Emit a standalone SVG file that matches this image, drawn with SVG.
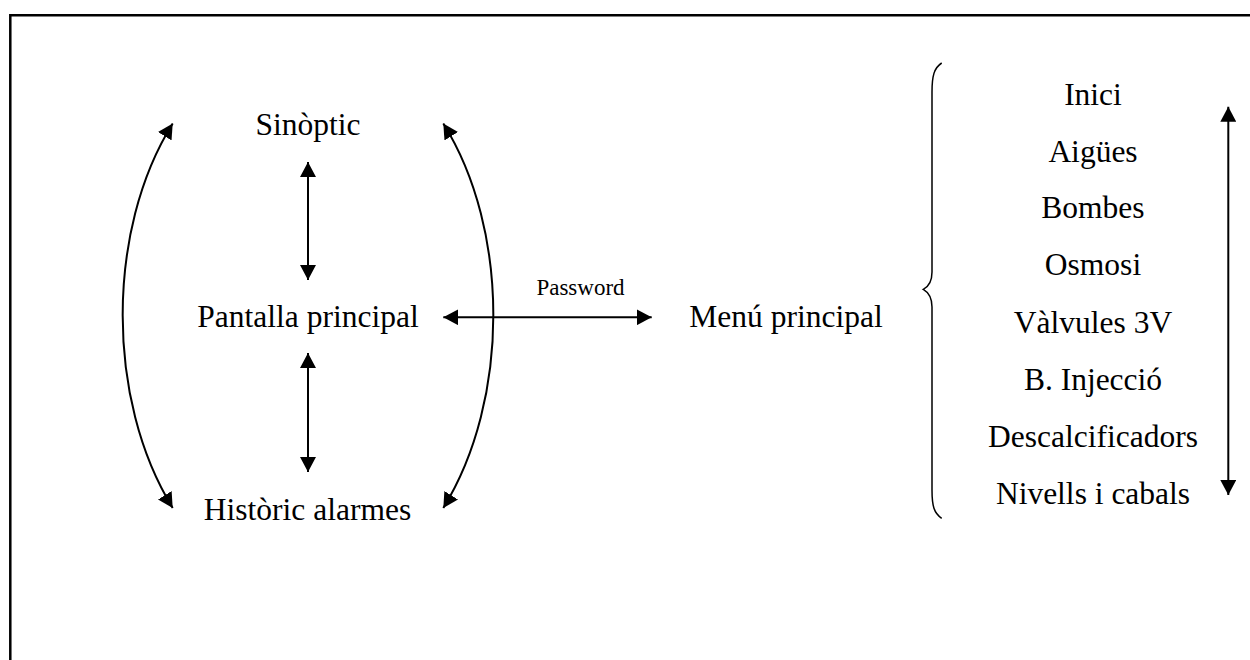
<svg xmlns="http://www.w3.org/2000/svg" width="1250" height="660" viewBox="0 0 1250 660">
  <style>
    .t { font-family: "Liberation Serif", "Times New Roman", serif; font-size: 31.5px; fill: #000; text-anchor: middle; }
    .s { font-family: "Liberation Serif", "Times New Roman", serif; font-size: 23px; fill: #000; text-anchor: middle; }
    .c { fill: none; stroke: #000; stroke-width: 2; }
    .b { fill: none; stroke: #000; stroke-width: 1.5; }
  </style>
  <defs>
    <marker id="ah" viewBox="0 0 15 16" refX="15" refY="8" markerWidth="15" markerHeight="16" markerUnits="userSpaceOnUse" orient="auto-start-reverse">
      <path d="M0,0 L15,8 L0,16 Z" fill="#000"/>
    </marker>
  </defs>

  <rect width="1250" height="660" fill="#fff"/>
  <!-- frame (open on right and bottom) -->
  <path d="M10.3,660 L10.3,15.3 L1250,15.3" fill="none" stroke="#000" stroke-width="2.5"/>

  <g id="sinoptic"><text class="t" x="308" y="135">Sinòptic</text></g>
  <g id="pantalla-principal"><text class="t" x="308" y="327">Pantalla principal</text></g>
  <g id="historic-alarmes"><text class="t" x="307.5" y="520">Històric alarmes</text></g>
  <g id="menu-principal"><text class="t" x="786" y="327">Menú principal</text></g>

  <g id="submenu">
    <path class="b" d="M941.7,63 C934,68 932,76 932,92 L932,272 C932,283 928,287 923.3,289.3 C928,292 932,296 932,307 L932,490 C932,506 934,513 941.7,518.3"/>
    <text class="t" x="1093" y="105">Inici</text>
    <text class="t" x="1093" y="161.7">Aigües</text>
    <text class="t" x="1093" y="218.3">Bombes</text>
    <text class="t" x="1093" y="275">Osmosi</text>
    <text class="t" x="1093" y="332.7">Vàlvules 3V</text>
    <text class="t" x="1093" y="390">B. Injecció</text>
    <text class="t" x="1093" y="446.7">Descalcificadors</text>
    <text class="t" x="1093" y="504">Nivells i cabals</text>
  </g>

  <g id="connectors">
    <path class="c" d="M308,162 L308,280" marker-start="url(#ah)" marker-end="url(#ah)"/>
    <path class="c" d="M308,353 L308,472" marker-start="url(#ah)" marker-end="url(#ah)"/>
    <path class="c" d="M172.7,123.5 C106,230 106,400 172.7,508" marker-start="url(#ah)" marker-end="url(#ah)"/>
    <path class="c" d="M443.3,123.5 C510,230 510,400 443.3,508" marker-start="url(#ah)" marker-end="url(#ah)"/>
    <path class="c" d="M443.3,317.3 L651.7,317.3" marker-start="url(#ah)" marker-end="url(#ah)"/>
    <text class="s" x="580.5" y="295">Password</text>
    <path class="c" d="M1228.3,106.7 L1228.3,495" marker-start="url(#ah)" marker-end="url(#ah)"/>
  </g>
</svg>
